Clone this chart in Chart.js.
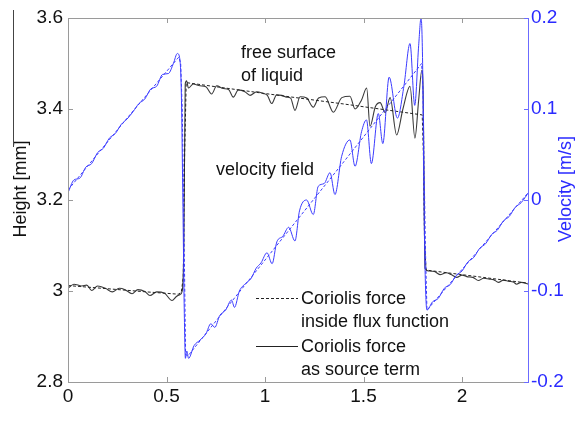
<!DOCTYPE html>
<html>
<head>
<meta charset="utf-8">
<script src="https://cdn.jsdelivr.net/npm/chart.js@4/dist/chart.umd.min.js"></script>
<style>
  body { margin: 0; background: #fff; }
  canvas { display: block; }
</style>
</head>
<body>
<canvas id="coriolisChart" width="576" height="431"></canvas>
<script>
// tick labels
const xTicks = [0, 0.5, 1, 1.5, 2];
const heightTicks = [2.8, 3, 3.2, 3.4, 3.6];
const velocityTicks = [-0.2, -0.1, 0, 0.1, 0.2];

// height, Coriolis force inside flux function (dashed black)
const hFluxX = [0, 0.2, 0.4, 0.56, 0.575, 0.585, 0.592, 0.6, 1.0, 1.4, 1.798, 1.804, 1.81, 1.818, 2.34];
const hFluxY = [3.012, 3.005, 2.998, 2.993, 2.997, 3.03, 3.30, 3.458, 3.434, 3.411, 3.387, 3.30, 3.10, 3.046, 3.017];

// height, Coriolis force as source term (solid black)
const hSrcX = [0, 0.03, 0.07, 0.095, 0.12, 0.15, 0.19, 0.225, 0.26, 0.29, 0.325, 0.355, 0.39, 0.416, 0.45, 0.49, 0.528, 0.55, 0.568, 0.58, 0.588, 0.595,
  0.602, 0.611, 0.636, 0.67, 0.70, 0.729, 0.755, 0.788, 0.815, 0.839, 0.865, 0.898, 0.924, 0.958, 0.991, 1.012, 1.034, 1.059, 1.085, 1.11, 1.13, 1.152,
  1.178, 1.212, 1.245, 1.272, 1.305, 1.347, 1.39, 1.431, 1.457, 1.49, 1.516, 1.533, 1.56, 1.584, 1.61, 1.635, 1.668, 1.70, 1.736, 1.761, 1.78, 1.796,
  1.803, 1.808, 1.812, 1.83, 1.86, 1.888, 1.92, 1.945, 1.973, 2.0, 2.03, 2.055, 2.083, 2.11, 2.14, 2.16, 2.185, 2.21, 2.24, 2.26, 2.277, 2.30, 2.34];
const hSrcY = [3.006, 3.015, 3.011, 3.013, 3.001, 3.011, 3.006, 2.998, 3.006, 3.003, 2.994, 3.003, 2.999, 2.990, 2.998, 2.995, 2.979, 2.988, 2.992, 3.0, 3.1, 3.455,
  3.462, 3.446, 3.455, 3.451, 3.449, 3.433, 3.451, 3.445, 3.443, 3.426, 3.442, 3.438, 3.430, 3.438, 3.434, 3.430, 3.412, 3.431, 3.430, 3.426, 3.424, 3.397,
  3.427, 3.424, 3.404, 3.424, 3.427, 3.393, 3.425, 3.428, 3.400, 3.420, 3.446, 3.362, 3.405, 3.414, 3.392, 3.425, 3.343, 3.400, 3.450, 3.336, 3.420, 3.485,
  3.430, 3.200, 3.050, 3.044, 3.043, 3.036, 3.040, 3.036, 3.030, 3.035, 3.031, 3.030, 3.023, 3.028, 3.026, 3.025, 3.019, 3.024, 3.021, 3.020, 3.015, 3.019, 3.015];

// velocity, Coriolis force inside flux function (dashed blue)
const vFluxX = [0, 0.3, 0.55, 0.563, 0.572, 0.58, 0.588, 0.597, 0.61, 1.0, 1.4, 1.795, 1.802, 1.808, 1.815, 1.822, 2.34];
const vFluxY = [0.011, 0.090, 0.154, 0.157, 0.150, 0.10, -0.02, -0.17, -0.171, -0.066, 0.042, 0.150, 0.12, 0.03, -0.06, -0.121, 0.009];

// velocity, Coriolis force as source term (solid blue)
const vSrcX = [0, 0.03, 0.06, 0.09, 0.12, 0.15, 0.18, 0.21, 0.24, 0.27, 0.30, 0.33, 0.36, 0.39, 0.42, 0.45, 0.48, 0.51, 0.535, 0.555, 0.566, 0.575, 0.583, 0.59,
  0.596, 0.603, 0.612, 0.64, 0.67, 0.70, 0.725, 0.745, 0.77, 0.80, 0.83, 0.845, 0.87, 0.90, 0.93, 0.955, 0.98, 1.01, 1.036, 1.06, 1.09, 1.12, 1.152,
  1.175, 1.211, 1.245, 1.27, 1.30, 1.33, 1.355, 1.389, 1.431, 1.457, 1.49, 1.515, 1.54, 1.575, 1.598, 1.63, 1.672, 1.705, 1.736, 1.76, 1.78, 1.792,
  1.80, 1.807, 1.814, 1.822, 1.85, 1.88, 1.91, 1.94, 1.97, 2.0, 2.03, 2.06, 2.09, 2.12, 2.15, 2.18, 2.21, 2.24, 2.27, 2.30, 2.34];
const vSrcY = [0.008, 0.022, 0.024, 0.036, 0.040, 0.052, 0.057, 0.068, 0.073, 0.083, 0.089, 0.097, 0.106, 0.111, 0.122, 0.125, 0.138, 0.139, 0.150, 0.161, 0.157, 0.12, 0.0, -0.12,
  -0.174, -0.166, -0.174, -0.160, -0.154, -0.147, -0.136, -0.140, -0.127, -0.121, -0.110, -0.118, -0.100, -0.092, -0.086, -0.075, -0.069, -0.058, -0.070, -0.046, -0.040, -0.030, -0.045,
  -0.012, 0.0, -0.016, 0.015, 0.018, 0.030, 0.006, 0.048, 0.066, 0.037, 0.075, 0.088, 0.040, 0.095, 0.062, 0.135, 0.090, 0.125, 0.172, 0.104, 0.170, 0.200,
  0.150, 0.0, -0.09, -0.121, -0.112, -0.108, -0.097, -0.093, -0.083, -0.078, -0.068, -0.063, -0.053, -0.048, -0.038, -0.033, -0.023, -0.018, -0.008, -0.003, 0.009];

const toPoints = (xs, ys) => xs.map((x, i) => ({ x: x, y: ys[i] }));

const FONT = 'Liberation Sans, Arial, sans-serif';
const BLUE = '#2a2aff';
const LINE_BLUE = '#3b3bff';

const extras = {
  id: 'extras',
  afterDraw(chart) {
    const ctx = chart.ctx;
    const a = chart.chartArea;
    const sx = chart.scales.x, sy = chart.scales.y, sv = chart.scales.y1;
    ctx.save();
    // frame
    ctx.lineWidth = 1;
    ctx.strokeStyle = '#9a9a9a';
    ctx.beginPath();
    ctx.moveTo(a.right, a.top + 0.5); ctx.lineTo(a.left + 0.5, a.top + 0.5);
    ctx.lineTo(a.left + 0.5, a.bottom + 0.5); ctx.lineTo(a.right, a.bottom + 0.5);
    ctx.stroke();
    // inward ticks
    xTicks.forEach(v => {
      const p = Math.round(sx.getPixelForValue(v)) + 0.5;
      ctx.beginPath();
      ctx.moveTo(p, a.bottom); ctx.lineTo(p, a.bottom - 5);
      ctx.moveTo(p, a.top); ctx.lineTo(p, a.top + 5);
      ctx.stroke();
    });
    heightTicks.forEach(v => {
      const p = Math.round(sy.getPixelForValue(v)) + 0.5;
      ctx.beginPath();
      ctx.moveTo(a.left, p); ctx.lineTo(a.left + 5, p);
      ctx.stroke();
    });
    ctx.strokeStyle = '#6b6bff';
    ctx.beginPath();
    ctx.moveTo(a.right - 0.5, a.top); ctx.lineTo(a.right - 0.5, a.bottom + 1);
    ctx.stroke();
    velocityTicks.forEach(v => {
      const p = Math.round(sv.getPixelForValue(v)) + 0.5;
      ctx.beginPath();
      ctx.moveTo(a.right, p); ctx.lineTo(a.right - 5, p);
      ctx.stroke();
    });

    // axis titles
    ctx.font = '18px ' + FONT;
    ctx.textAlign = 'center';
    ctx.textBaseline = 'middle';
    ctx.fillStyle = '#111';
    ctx.save();
    ctx.translate(21, 189);
    ctx.rotate(-Math.PI / 2);
    ctx.fillText('Height [mm]', 0, 0);
    ctx.restore();
    ctx.fillStyle = BLUE;
    ctx.save();
    ctx.translate(566, 189);
    ctx.rotate(-Math.PI / 2);
    ctx.fillText('Velocity [m/s]', 0, 0);
    ctx.restore();

    // annotations
    ctx.fillStyle = '#111';
    ctx.textAlign = 'left';
    ctx.fillText('free surface', 241, 53);
    ctx.fillText('of liquid', 241, 76);
    ctx.fillText('velocity field', 216, 170);

    // legend
    ctx.strokeStyle = '#222';
    ctx.lineWidth = 1;
    ctx.setLineDash([3, 2]);
    ctx.beginPath();
    ctx.moveTo(256, 298.5); ctx.lineTo(298, 298.5);
    ctx.stroke();
    ctx.setLineDash([]);
    ctx.beginPath();
    ctx.moveTo(256, 346.5); ctx.lineTo(298, 346.5);
    ctx.stroke();
    ctx.fillText('Coriolis force', 301, 299);
    ctx.fillText('inside flux function', 301, 322);
    ctx.fillText('Coriolis force', 301, 347);
    ctx.fillText('as source term', 301, 370);

    // stray line at left edge
    ctx.strokeStyle = '#444';
    ctx.beginPath();
    ctx.moveTo(13.5, 10); ctx.lineTo(13.5, 147);
    ctx.stroke();
    ctx.restore();
  }
};

new Chart(document.getElementById('coriolisChart'), {
  type: 'line',
  data: {
    datasets: [
      {
        label: 'Velocity, source term',
        data: toPoints(vSrcX, vSrcY),
        borderColor: LINE_BLUE,
        borderWidth: 1,
        yAxisID: 'y1',
      },
      {
        label: 'Velocity, flux function',
        data: toPoints(vFluxX, vFluxY),
        borderColor: LINE_BLUE,
        borderWidth: 1,
        borderDash: [3, 2],
        cubicInterpolationMode: 'default',
        tension: 0,
        yAxisID: 'y1',
      },
      {
        label: 'Height, flux function',
        data: toPoints(hFluxX, hFluxY),
        borderColor: '#222',
        borderWidth: 1,
        borderDash: [3, 2],
        cubicInterpolationMode: 'default',
        tension: 0,
        yAxisID: 'y',
      },
      {
        label: 'Height, source term',
        data: toPoints(hSrcX, hSrcY),
        borderColor: '#3a3a3a',
        borderWidth: 1.1,
        yAxisID: 'y',
      },
    ],
  },
  options: {
    responsive: false,
    animation: false,
    devicePixelRatio: 1,
    layout: { padding: { top: 18, right: 0, left: 0, bottom: 0 } },
    elements: {
      point: { radius: 0 },
      line: { cubicInterpolationMode: 'monotone', fill: false },
    },
    plugins: { legend: { display: false }, tooltip: { enabled: false } },
    scales: {
      x: {
        type: 'linear',
        min: 0,
        max: 2.34,
        afterFit: s => { s.height = 49; },
        afterBuildTicks: s => { s.ticks = xTicks.map(v => ({ value: v })); },
        grid: { display: false, drawTicks: false },
        border: { display: false },
        ticks: {
          padding: 3,
          color: '#111',
          font: { family: FONT, size: 19 },
          callback: v => String(v),
        },
      },
      y: {
        type: 'linear',
        position: 'left',
        min: 2.8,
        max: 3.6,
        afterFit: s => { s.width = 68; },
        afterBuildTicks: s => { s.ticks = heightTicks.map(v => ({ value: v })); },
        grid: { display: false, drawTicks: false },
        border: { display: false },
        ticks: {
          padding: 5,
          color: '#111',
          font: { family: FONT, size: 19 },
          callback: v => String(+v.toFixed(1)),
        },
      },
      y1: {
        type: 'linear',
        position: 'right',
        min: -0.2,
        max: 0.2,
        afterFit: s => { s.width = 47; },
        afterBuildTicks: s => { s.ticks = velocityTicks.map(v => ({ value: v })); },
        grid: { display: false, drawTicks: false },
        border: { display: false },
        ticks: {
          padding: 2,
          color: BLUE,
          font: { family: FONT, size: 19 },
          callback: v => String(+v.toFixed(1)),
        },
      },
    },
  },
  plugins: [extras],
});
</script>
</body>
</html>
